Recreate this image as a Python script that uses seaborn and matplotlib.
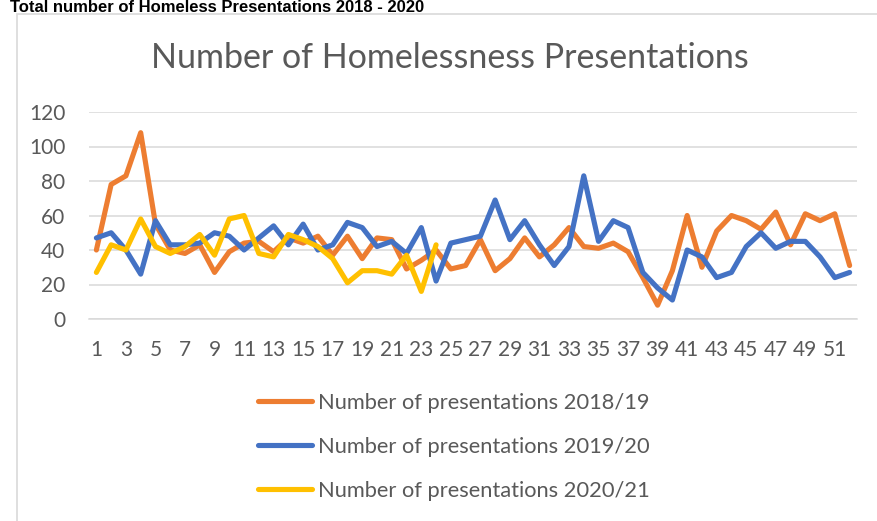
import matplotlib
matplotlib.use("Agg")
import matplotlib.pyplot as plt
from matplotlib.patches import Rectangle
from matplotlib.ticker import FixedLocator
import numpy as np
import pandas as pd
import seaborn as sns

weeks = list(range(1, 53))
series_names = ["Number of presentations 2018/19",
                "Number of presentations 2019/20",
                "Number of presentations 2020/21"]
vals_2018_19 = [40, 78, 83, 108, 55, 40, 38, 43, 27, 39, 44, 45, 39, 47, 44, 48, 37, 48, 35, 47,
                46, 29, 34, 40, 29, 31, 46, 28, 35, 47, 36, 43, 53, 42, 41, 44, 39, 24, 8, 28,
                60, 30, 51, 60, 57, 52, 62, 43, 61, 57, 61, 31]
vals_2019_20 = [47, 50, 40, 26, 57, 43, 43, 44, 50, 48, 40, 47, 54, 43, 55, 40, 43, 56, 53, 42,
                45, 38, 53, 22, 44, 46, 48, 69, 46, 57, 43, 31, 42, 83, 45, 57, 53, 27, 18, 11,
                40, 36, 24, 27, 42, 50, 41, 45, 45, 36, 24, 27]
vals_2020_21 = [27, 43, 40, 58, 42, 38, 42, 49, 37, 58, 60, 38, 36, 49, 46, 42, 35, 21, 28, 28,
                26, 37, 16, 43]
y_ticks = [0, 20, 40, 60, 80, 100, 120]
x_tick_labels = [str(w) for w in range(1, 53, 2)]
colors = ["#ED7D31", "#4472C4", "#FFC000"]

frames = []
for name, vals in zip(series_names, [vals_2018_19, vals_2019_20, vals_2020_21]):
    frames.append(pd.DataFrame({"week": weeks[:len(vals)], "value": vals, "series": name}))
df = pd.concat(frames, ignore_index=True)

sns.set_theme(style="white")
plt.rcParams["font.family"] = ["Lato", "DejaVu Sans"]

W, H = 878, 521
fig = plt.figure(figsize=(W / 100, H / 100), dpi=100)
ax = fig.add_axes([89 / W, 1 - 319 / H, (857 - 89) / W, (319 - 112) / H])

sns.lineplot(data=df, x="week", y="value", hue="series", hue_order=series_names,
             palette=colors, linewidth=3.7, ax=ax, legend=True, sort=False)

ax.set_xlim(0.5, 52.5)
ax.set_ylim(0, 120)
ax.set_yticks(y_ticks)
ax.set_yticklabels([str(v) for v in y_ticks])
ax.set_xticks(list(range(1, 53, 2)))
ax.set_xticklabels(x_tick_labels)
ax.xaxis.set_minor_locator(FixedLocator(np.arange(0.5, 53, 1.0)))
ax.tick_params(axis="x", which="major", length=0, pad=15, labelsize=15, labelcolor="#595959")
ax.tick_params(axis="x", which="minor", length=7, width=1, color="#D9D9D9", direction="out")
ax.tick_params(axis="y", length=0, pad=17, labelsize=15, labelcolor="#595959")
ax.set_xlabel("")
ax.set_ylabel("")
ax.grid(axis="y", color="#D9D9D9", linewidth=1.1)
ax.set_axisbelow(True)
for s in ["top", "right", "left"]:
    ax.spines[s].set_visible(False)
ax.spines["bottom"].set_color("#D9D9D9")
ax.spines["bottom"].set_linewidth(1.1)

handles, labels = ax.get_legend_handles_labels()
ax.get_legend().remove()
fig.legend(handles, labels, loc="center", bbox_to_anchor=(454 / W, 1 - 447 / H),
           frameon=False, fontsize=15.75, labelcolor="#595959", handlelength=2.45,
           handletextpad=0.27, labelspacing=1.1)

fig.text(450 / W, 1 - 58 / H, "Number of Homelessness Presentations", ha="center", va="center",
         fontsize=24.5, color="#595959")

fig.text(10 / W, 1 - 12 / H, "Total number of Homeless Presentations 2018 - 2020", ha="left",
         va="baseline", fontsize=12, fontweight="bold", color="black",
         family=["Liberation Sans", "DejaVu Sans"])

fig.patches.append(Rectangle((17 / W, -0.1), 2, 1 - 14 / H + 0.1, transform=fig.transFigure,
                             fill=False, edgecolor="#D9D9D9", linewidth=1.2, zorder=0))

fig.savefig("out.png", dpi=100, facecolor="white")
